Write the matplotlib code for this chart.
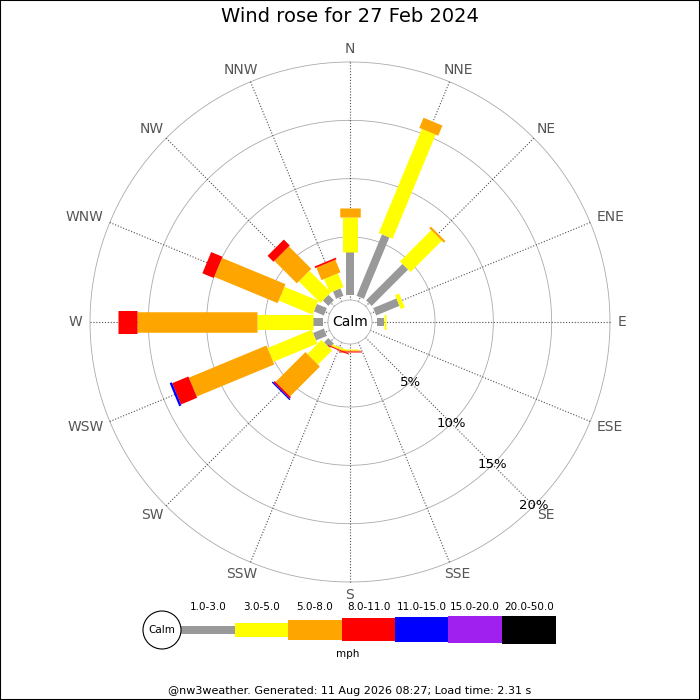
import numpy as np
import matplotlib
matplotlib.use("Agg")
import matplotlib.pyplot as plt
from matplotlib.patches import Rectangle, Circle

# ---- data ----
directions = ["N", "NNE", "NE", "ENE", "E", "ESE", "SE", "SSE",
              "S", "SSW", "SW", "WSW", "W", "WNW", "NW", "NNW"]
speed_bins = ["1.0-3.0", "3.0-5.0", "5.0-8.0", "8.0-11.0",
              "11.0-15.0", "15.0-20.0", "20.0-50.0"]
# percentage of time per direction, per speed bin (segment lengths)
freq = [
    [3.74, 2.97, 0.77, 0, 0, 0, 0],      # N
    [5.70, 9.66, 0.94, 0, 0, 0, 0],      # NNE
    [4.41, 3.79, 0.20, 0, 0, 0, 0],      # NE
    [2.16, 0.37, 0, 0, 0, 0, 0],         # ENE
    [0.63, 0.15, 0, 0, 0, 0, 0],         # E
    [0, 0, 0, 0, 0, 0, 0],               # ESE
    [0, 0, 0, 0, 0, 0, 0],               # SE
    [0, 0, 0, 0, 0, 0, 0],               # SSE
    [0.05, 0.10, 0.05, 0.08, 0, 0, 0],   # S
    [0.05, 0.15, 0.05, 0.08, 0, 0, 0],   # SSW
    [0.52, 1.72, 3.61, 0.15, 0.12, 0, 0],  # SW
    [1.00, 4.10, 7.20, 1.50, 0.20, 0, 0],  # WSW
    [0.86, 4.80, 10.28, 1.66, 0, 0, 0],  # W
    [0.92, 3.14, 5.89, 1.05, 0, 0, 0],   # WNW
    [0.66, 2.62, 2.72, 0.72, 0, 0, 0],   # NW
    [0.69, 1.27, 1.16, 0.15, 0, 0, 0],   # NNW
]
ring_values = [5, 10, 15, 20]
ring_labels = ["5%", "10%", "15%", "20%"]
title = "Wind rose for 27 Feb 2024"
footer = "@nw3weather. Generated: 11 Aug 2026 08:27; Load time: 2.31 s"

# ---- style ----
colors = ["#999999", "#ffff00", "#ffa500", "#ff0000", "#0000ff", "#a020f0", "#000000"]
widths_px = [8, 15, 20.5, 23, 25, 27, 28]
legend_h = [8, 14, 20, 23, 25, 27, 28]
DPI = 100
px2pt = 72.0 / DPI

fig = plt.figure(figsize=(7, 7), dpi=DPI)
fig.patch.set_facecolor("white")

R = 260.0
cx, cy = 350.0, 322.0
ax = fig.add_axes([(cx - R) / 700, (700 - cy - R) / 700, 2 * R / 700, 2 * R / 700],
                  projection="polar")
ax.set_theta_zero_location("N")
ax.set_theta_direction(-1)
rorig = 2.29
ax.set_ylim(0, 20)
ax.set_rorigin(-rorig)
ax.set_xticks([])
ax.set_yticks([])
ax.grid(False)
for s in ax.spines.values():
    s.set_visible(False)
    s.set_linewidth(0)
    s.set_edgecolor("none")
ax.patch.set_visible(False)

k = R / (20 + rorig)          # pixels per percent
def px_to_r(p):
    return p / k - rorig

thetas = np.deg2rad(np.arange(16) * 22.5)

# rings
tt = np.linspace(0, 2 * np.pi, 400)
for rv in ring_values:
    ax.plot(tt, np.full_like(tt, rv), color="#aaaaaa", lw=0.6, zorder=1, clip_on=False)
# spokes
for th in thetas:
    ax.plot([th, th], [px_to_r(22), 20], color="#505050", lw=0.8,
            ls=(0, (1, 1.6)), zorder=1, clip_on=False)

# bars
for i, th in enumerate(thetas):
    base = 0.0
    for j, v in enumerate(freq[i]):
        if v > 0:
            ax.plot([th, th], [base, base + v], color=colors[j],
                    lw=widths_px[j] * px2pt, solid_capstyle="butt", zorder=3 + j,
                    clip_on=False)
        base += v

# direction labels: anchored at r=268 px, shifted outward by half box
renderer = fig.canvas.get_renderer()
lab_r = px_to_r(268)
for th, d in zip(thetas, directions):
    t = fig.text(0, 0, d, fontsize=10)
    bb = t.get_window_extent(renderer)
    t.remove()
    w, h = bb.width, bb.height * 0.75
    ax.annotate(d, xy=(th, lab_r), xytext=(np.sin(th) * w / 2, np.cos(th) * h / 2),
                textcoords="offset pixels", ha="center", va="center",
                fontsize=10, color="#555555", annotation_clip=False)

# ring labels along SE
for rv, rl in zip(ring_values, ring_labels):
    ax.text(np.deg2rad(135), rv, rl, ha="center", va="center", fontsize=9.5,
            color="black", zorder=10)

# overlay axes in pixel coordinates
lax = fig.add_axes([0, 0, 1, 1])
lax.set_xlim(0, 700)
lax.set_ylim(700, 0)
lax.axis("off")
lax.patch.set_alpha(0)

lax.add_patch(Circle((cx, cy), 22, facecolor="white", edgecolor="#bbbbbb", lw=0.7, zorder=5))
lax.text(cx, cy, "Calm", ha="center", va="center", fontsize=10, zorder=6)

fig.text(0.5, 1 - 17 / 700, title, ha="center", va="center", fontsize=14)

# legend
edges = [181, 235, 288, 342, 395, 448, 502, 556]
ly = 629.5
lax.add_patch(Circle((162, 630), 19, facecolor="white", edgecolor="black", lw=0.8, zorder=5))
lax.text(162, 630, "Calm", ha="center", va="center", fontsize=7.5, zorder=6)
for j in range(len(speed_bins)):
    hh = legend_h[j]
    lax.add_patch(Rectangle((edges[j], ly - hh / 2), edges[j + 1] - edges[j], hh,
                            facecolor=colors[j], edgecolor="none", zorder=4))
    lax.text((edges[j] + edges[j + 1]) / 2, 607, speed_bins[j], ha="center",
             va="center", fontsize=7.5)
lax.text(348, 654, "mph", ha="center", va="center", fontsize=7.5)
lax.text(350, 691, footer, ha="center", va="center", fontsize=8)

fig.add_artist(Rectangle((0, 0), 1, 1, transform=fig.transFigure, fill=False,
                         edgecolor="black", lw=1.5))

fig.savefig("out.png", dpi=DPI)
